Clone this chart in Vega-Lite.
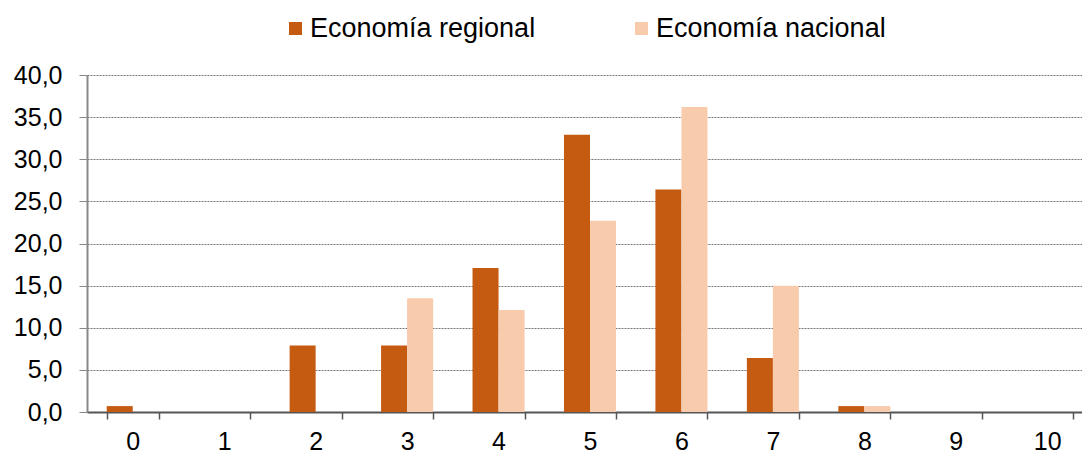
{
  "$schema": "https://vega.github.io/schema/vega-lite/v6.json",
  "autosize": "none",
  "width": 994,
  "height": 337,
  "padding": {"left": 87, "top": 75, "right": 1, "bottom": 41},
  "config": {
    "locale": {"number": {"decimal": ",", "thousands": ".", "grouping": [3], "currency": ["", " €"]}},
    "font": "Liberation Sans",
    "view": {"stroke": null}
  },
  "data": {
    "values": [
      {"cat": "0", "serie": "Economía regional", "valor": 0.7},
      {"cat": "0", "serie": "Economía nacional", "valor": 0.0},
      {"cat": "1", "serie": "Economía regional", "valor": 0.0},
      {"cat": "1", "serie": "Economía nacional", "valor": 0.0},
      {"cat": "2", "serie": "Economía regional", "valor": 7.9},
      {"cat": "2", "serie": "Economía nacional", "valor": 0.0},
      {"cat": "3", "serie": "Economía regional", "valor": 7.9},
      {"cat": "3", "serie": "Economía nacional", "valor": 13.5},
      {"cat": "4", "serie": "Economía regional", "valor": 17.1},
      {"cat": "4", "serie": "Economía nacional", "valor": 12.1},
      {"cat": "5", "serie": "Economía regional", "valor": 32.9},
      {"cat": "5", "serie": "Economía nacional", "valor": 22.7},
      {"cat": "6", "serie": "Economía regional", "valor": 26.4},
      {"cat": "6", "serie": "Economía nacional", "valor": 36.2},
      {"cat": "7", "serie": "Economía regional", "valor": 6.4},
      {"cat": "7", "serie": "Economía nacional", "valor": 15.0},
      {"cat": "8", "serie": "Economía regional", "valor": 0.7},
      {"cat": "8", "serie": "Economía nacional", "valor": 0.7},
      {"cat": "9", "serie": "Economía regional", "valor": 0.0},
      {"cat": "9", "serie": "Economía nacional", "valor": 0.0},
      {"cat": "10", "serie": "Economía regional", "valor": 0.0},
      {"cat": "10", "serie": "Economía nacional", "valor": 0.0}
    ]
  },
  "mark": {"type": "bar"},
  "encoding": {
    "x": {
      "field": "cat", "type": "ordinal",
      "sort": ["0","1","2","3","4","5","6","7","8","9","10"],
      "scale": {"paddingInner": 0.431, "paddingOuter": 0.2157, "range": [0, 1006]},
      "axis": {
        "title": null, "labelAngle": 0, "labelFontSize": 25, "labelColor": "#000",
        "tickBand": "extent", "tickSize": 7, "tickColor": "#555", "tickWidth": 1.5,
        "domainColor": "#555", "domainWidth": 2, "labelPadding": 10, "grid": false
      }
    },
    "xOffset": {"field": "serie", "type": "nominal", "sort": ["Economía regional", "Economía nacional"]},
    "y": {
      "field": "valor", "type": "quantitative",
      "scale": {"domain": [0, 40], "nice": false},
      "axis": {
        "title": null, "values": [0,5,10,15,20,25,30,35,40], "format": ".1f",
        "labelFontSize": 25, "labelColor": "#000", "labelPadding": 17,
        "tickSize": 8, "tickColor": "#888", "domainColor": "#888", "domainWidth": 2,
        "gridColor": "#777", "gridDash": [2, 1], "gridWidth": 1
      }
    },
    "color": {
      "field": "serie", "type": "nominal",
      "sort": ["Economía regional", "Economía nacional"],
      "scale": {"domain": ["Economía regional", "Economía nacional"], "range": ["#C55A11", "#F8CBAD"]},
      "legend": {
        "title": null, "orient": "none", "legendX": 195, "legendY": -60,
        "direction": "horizontal", "columns": 2, "symbolType": "square", "symbolSize": 169,
        "symbolStrokeWidth": 0, "labelFontSize": 27, "labelColor": "#000", "labelOffset": 1,
        "labelLimit": 400, "columnPadding": 92, "gridAlign": "none"
      }
    }
  }
}
